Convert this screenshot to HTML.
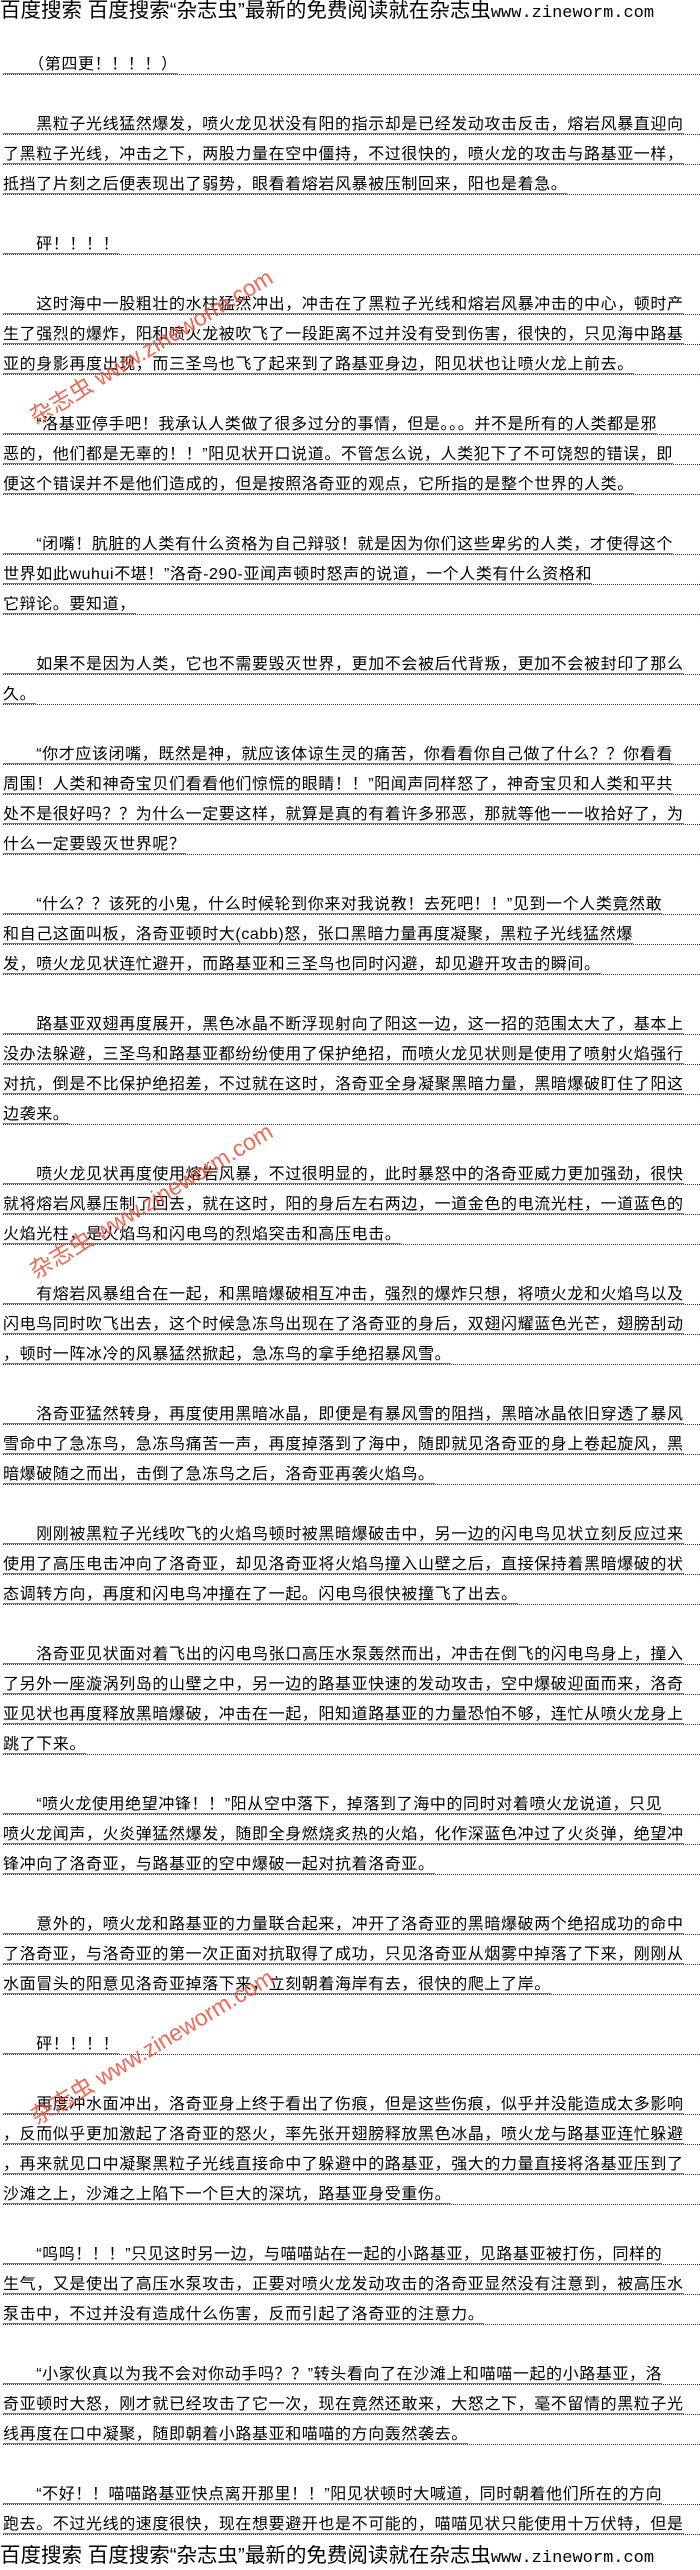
<!DOCTYPE html>
<html><head><meta charset="utf-8">
<style>
html,body{margin:0;padding:0;background:#fff;}
body{width:700px;height:2570px;position:relative;overflow:hidden;font-family:"Liberation Sans","Noto Sans CJK SC",sans-serif;color:#000;}
.h{position:absolute;left:0;width:700px;height:22px;line-height:22px;font-size:20.5px;white-space:nowrap;overflow:hidden;font-family:"Liberation Sans","Noto Sans CJK SC",sans-serif;}
.h span{font-family:"Liberation Mono",monospace;font-size:17px;}
.l{position:absolute;left:3px;width:697px;height:18px;line-height:18px;font-size:16px;letter-spacing:0.6px;white-space:nowrap;overflow:hidden;border-bottom:1px dotted #2a3560;}
.l span{border-bottom:1px solid #777;}
.w{position:absolute;width:340px;text-align:center;font-size:23px;color:#e8503a;opacity:0.85;white-space:nowrap;transform:rotate(-31deg);font-family:"Liberation Sans","Noto Sans CJK SC",sans-serif;}
</style></head><body>
<div class="h" style="top:0">百度搜索 百度搜索“杂志虫”最新的免费阅读就在杂志虫<span>www.zineworm.com</span></div>

<div class="l" style="top:56px"><span>　　（第四更！！！！）</span></div>
<div class="l" style="top:116px"><span>　　黑粒子光线猛然爆发，喷火龙见状没有阳的指示却是已经发动攻击反击，熔岩风暴直迎向</span></div>
<div class="l" style="top:146px"><span>了黑粒子光线，冲击之下，两股力量在空中僵持，不过很快的，喷火龙的攻击与路基亚一样，</span></div>
<div class="l" style="top:176px"><span>抵挡了片刻之后便表现出了弱势，眼看着熔岩风暴被压制回来，阳也是着急。</span></div>
<div class="l" style="top:236px"><span>　　砰！！！！</span></div>
<div class="l" style="top:296px"><span>　　这时海中一股粗壮的水柱猛然冲出，冲击在了黑粒子光线和熔岩风暴冲击的中心，顿时产</span></div>
<div class="l" style="top:326px"><span>生了强烈的爆炸，阳和喷火龙被吹飞了一段距离不过并没有受到伤害，很快的，只见海中路基</span></div>
<div class="l" style="top:356px"><span>亚的身影再度出现，而三圣鸟也飞了起来到了路基亚身边，阳见状也让喷火龙上前去。</span></div>
<div class="l" style="top:416px"><span>　　“洛基亚停手吧！我承认人类做了很多过分的事情，但是。。。并不是所有的人类都是邪</span></div>
<div class="l" style="top:446px"><span>恶的，他们都是无辜的！！”阳见状开口说道。不管怎么说，人类犯下了不可饶恕的错误，即</span></div>
<div class="l" style="top:476px"><span>便这个错误并不是他们造成的，但是按照洛奇亚的观点，它所指的是整个世界的人类。</span></div>
<div class="l" style="top:536px"><span>　　“闭嘴！肮脏的人类有什么资格为自己辩驳！就是因为你们这些卑劣的人类，才使得这个</span></div>
<div class="l" style="top:566px"><span>世界如此wuhui不堪！”洛奇-290-亚闻声顿时怒声的说道，一个人类有什么资格和</span></div>
<div class="l" style="top:596px"><span>它辩论。要知道，</span></div>
<div class="l" style="top:656px"><span>　　如果不是因为人类，它也不需要毁灭世界，更加不会被后代背叛，更加不会被封印了那么</span></div>
<div class="l" style="top:686px"><span>久。</span></div>
<div class="l" style="top:746px"><span>　　“你才应该闭嘴，既然是神，就应该体谅生灵的痛苦，你看看你自己做了什么？？你看看</span></div>
<div class="l" style="top:776px"><span>周围！人类和神奇宝贝们看看他们惊慌的眼睛！！”阳闻声同样怒了，神奇宝贝和人类和平共</span></div>
<div class="l" style="top:806px"><span>处不是很好吗？？为什么一定要这样，就算是真的有着许多邪恶，那就等他一一收拾好了，为</span></div>
<div class="l" style="top:836px"><span>什么一定要毁灭世界呢？</span></div>
<div class="l" style="top:896px"><span>　　“什么？？该死的小鬼，什么时候轮到你来对我说教！去死吧！！”见到一个人类竟然敢</span></div>
<div class="l" style="top:926px"><span>和自己这面叫板，洛奇亚顿时大(cabb)怒，张口黑暗力量再度凝聚，黑粒子光线猛然爆</span></div>
<div class="l" style="top:956px"><span>发，喷火龙见状连忙避开，而路基亚和三圣鸟也同时闪避，却见避开攻击的瞬间。</span></div>
<div class="l" style="top:1016px"><span>　　路基亚双翅再度展开，黑色冰晶不断浮现射向了阳这一边，这一招的范围太大了，基本上</span></div>
<div class="l" style="top:1046px"><span>没办法躲避，三圣鸟和路基亚都纷纷使用了保护绝招，而喷火龙见状则是使用了喷射火焰强行</span></div>
<div class="l" style="top:1076px"><span>对抗，倒是不比保护绝招差，不过就在这时，洛奇亚全身凝聚黑暗力量，黑暗爆破盯住了阳这</span></div>
<div class="l" style="top:1106px"><span>边袭来。</span></div>
<div class="l" style="top:1166px"><span>　　喷火龙见状再度使用熔岩风暴，不过很明显的，此时暴怒中的洛奇亚威力更加强劲，很快</span></div>
<div class="l" style="top:1196px"><span>就将熔岩风暴压制了回去，就在这时，阳的身后左右两边，一道金色的电流光柱，一道蓝色的</span></div>
<div class="l" style="top:1226px"><span>火焰光柱，是火焰鸟和闪电鸟的烈焰突击和高压电击。</span></div>
<div class="l" style="top:1286px"><span>　　有熔岩风暴组合在一起，和黑暗爆破相互冲击，强烈的爆炸只想，将喷火龙和火焰鸟以及</span></div>
<div class="l" style="top:1316px"><span>闪电鸟同时吹飞出去，这个时候急冻鸟出现在了洛奇亚的身后，双翅闪耀蓝色光芒，翅膀刮动</span></div>
<div class="l" style="top:1346px"><span>，顿时一阵冰冷的风暴猛然掀起，急冻鸟的拿手绝招暴风雪。</span></div>
<div class="l" style="top:1406px"><span>　　洛奇亚猛然转身，再度使用黑暗冰晶，即便是有暴风雪的阻挡，黑暗冰晶依旧穿透了暴风</span></div>
<div class="l" style="top:1436px"><span>雪命中了急冻鸟，急冻鸟痛苦一声，再度掉落到了海中，随即就见洛奇亚的身上卷起旋风，黑</span></div>
<div class="l" style="top:1466px"><span>暗爆破随之而出，击倒了急冻鸟之后，洛奇亚再袭火焰鸟。</span></div>
<div class="l" style="top:1526px"><span>　　刚刚被黑粒子光线吹飞的火焰鸟顿时被黑暗爆破击中，另一边的闪电鸟见状立刻反应过来</span></div>
<div class="l" style="top:1556px"><span>使用了高压电击冲向了洛奇亚，却见洛奇亚将火焰鸟撞入山壁之后，直接保持着黑暗爆破的状</span></div>
<div class="l" style="top:1586px"><span>态调转方向，再度和闪电鸟冲撞在了一起。闪电鸟很快被撞飞了出去。</span></div>
<div class="l" style="top:1646px"><span>　　洛奇亚见状面对着飞出的闪电鸟张口高压水泵轰然而出，冲击在倒飞的闪电鸟身上，撞入</span></div>
<div class="l" style="top:1676px"><span>了另外一座漩涡列岛的山壁之中，另一边的路基亚快速的发动攻击，空中爆破迎面而来，洛奇</span></div>
<div class="l" style="top:1706px"><span>亚见状也再度释放黑暗爆破，冲击在一起，阳知道路基亚的力量恐怕不够，连忙从喷火龙身上</span></div>
<div class="l" style="top:1736px"><span>跳了下来。</span></div>
<div class="l" style="top:1796px"><span>　　“喷火龙使用绝望冲锋！！”阳从空中落下，掉落到了海中的同时对着喷火龙说道，只见</span></div>
<div class="l" style="top:1826px"><span>喷火龙闻声，火炎弹猛然爆发，随即全身燃烧炙热的火焰，化作深蓝色冲过了火炎弹，绝望冲</span></div>
<div class="l" style="top:1856px"><span>锋冲向了洛奇亚，与路基亚的空中爆破一起对抗着洛奇亚。</span></div>
<div class="l" style="top:1916px"><span>　　意外的，喷火龙和路基亚的力量联合起来，冲开了洛奇亚的黑暗爆破两个绝招成功的命中</span></div>
<div class="l" style="top:1946px"><span>了洛奇亚，与洛奇亚的第一次正面对抗取得了成功，只见洛奇亚从烟雾中掉落了下来，刚刚从</span></div>
<div class="l" style="top:1976px"><span>水面冒头的阳意见洛奇亚掉落下来，立刻朝着海岸有去，很快的爬上了岸。</span></div>
<div class="l" style="top:2036px"><span>　　砰！！！！</span></div>
<div class="l" style="top:2096px"><span>　　再度冲水面冲出，洛奇亚身上终于看出了伤痕，但是这些伤痕，似乎并没能造成太多影响</span></div>
<div class="l" style="top:2126px"><span>，反而似乎更加激起了洛奇亚的怒火，率先张开翅膀释放黑色冰晶，喷火龙与路基亚连忙躲避</span></div>
<div class="l" style="top:2156px"><span>，再来就见口中凝聚黑粒子光线直接命中了躲避中的路基亚，强大的力量直接将洛基亚压到了</span></div>
<div class="l" style="top:2186px"><span>沙滩之上，沙滩之上陷下一个巨大的深坑，路基亚身受重伤。</span></div>
<div class="l" style="top:2246px"><span>　　“呜呜！！！”只见这时另一边，与喵喵站在一起的小路基亚，见路基亚被打伤，同样的</span></div>
<div class="l" style="top:2276px"><span>生气，又是使出了高压水泵攻击，正要对喷火龙发动攻击的洛奇亚显然没有注意到，被高压水</span></div>
<div class="l" style="top:2306px"><span>泵击中，不过并没有造成什么伤害，反而引起了洛奇亚的注意力。</span></div>
<div class="l" style="top:2366px"><span>　　“小家伙真以为我不会对你动手吗？？”转头看向了在沙滩上和喵喵一起的小路基亚，洛</span></div>
<div class="l" style="top:2396px"><span>奇亚顿时大怒，刚才就已经攻击了它一次，现在竟然还敢来，大怒之下，毫不留情的黑粒子光</span></div>
<div class="l" style="top:2426px"><span>线再度在口中凝聚，随即朝着小路基亚和喵喵的方向轰然袭去。</span></div>
<div class="l" style="top:2486px"><span>　　“不好！！喵喵路基亚快点离开那里！！”阳见状顿时大喊道，同时朝着他们所在的方向</span></div>
<div class="l" style="top:2516px"><span>跑去。不过光线的速度很快，现在想要避开也是不可能的，喵喵见状只能使用十万伏特，但是</span></div>

<div class="h" style="top:2545px">百度搜索 百度搜索“杂志虫”最新的免费阅读就在杂志虫<span>www.zineworm.com</span></div>

<div class="w" style="left:-20px;top:328px">杂志虫 www.zineworm.com</div>
<div class="w" style="left:-20px;top:1182px">杂志虫 www.zineworm.com</div>
<div class="w" style="left:-19px;top:2028px">杂志虫 www.zineworm.com</div>
</body></html>
